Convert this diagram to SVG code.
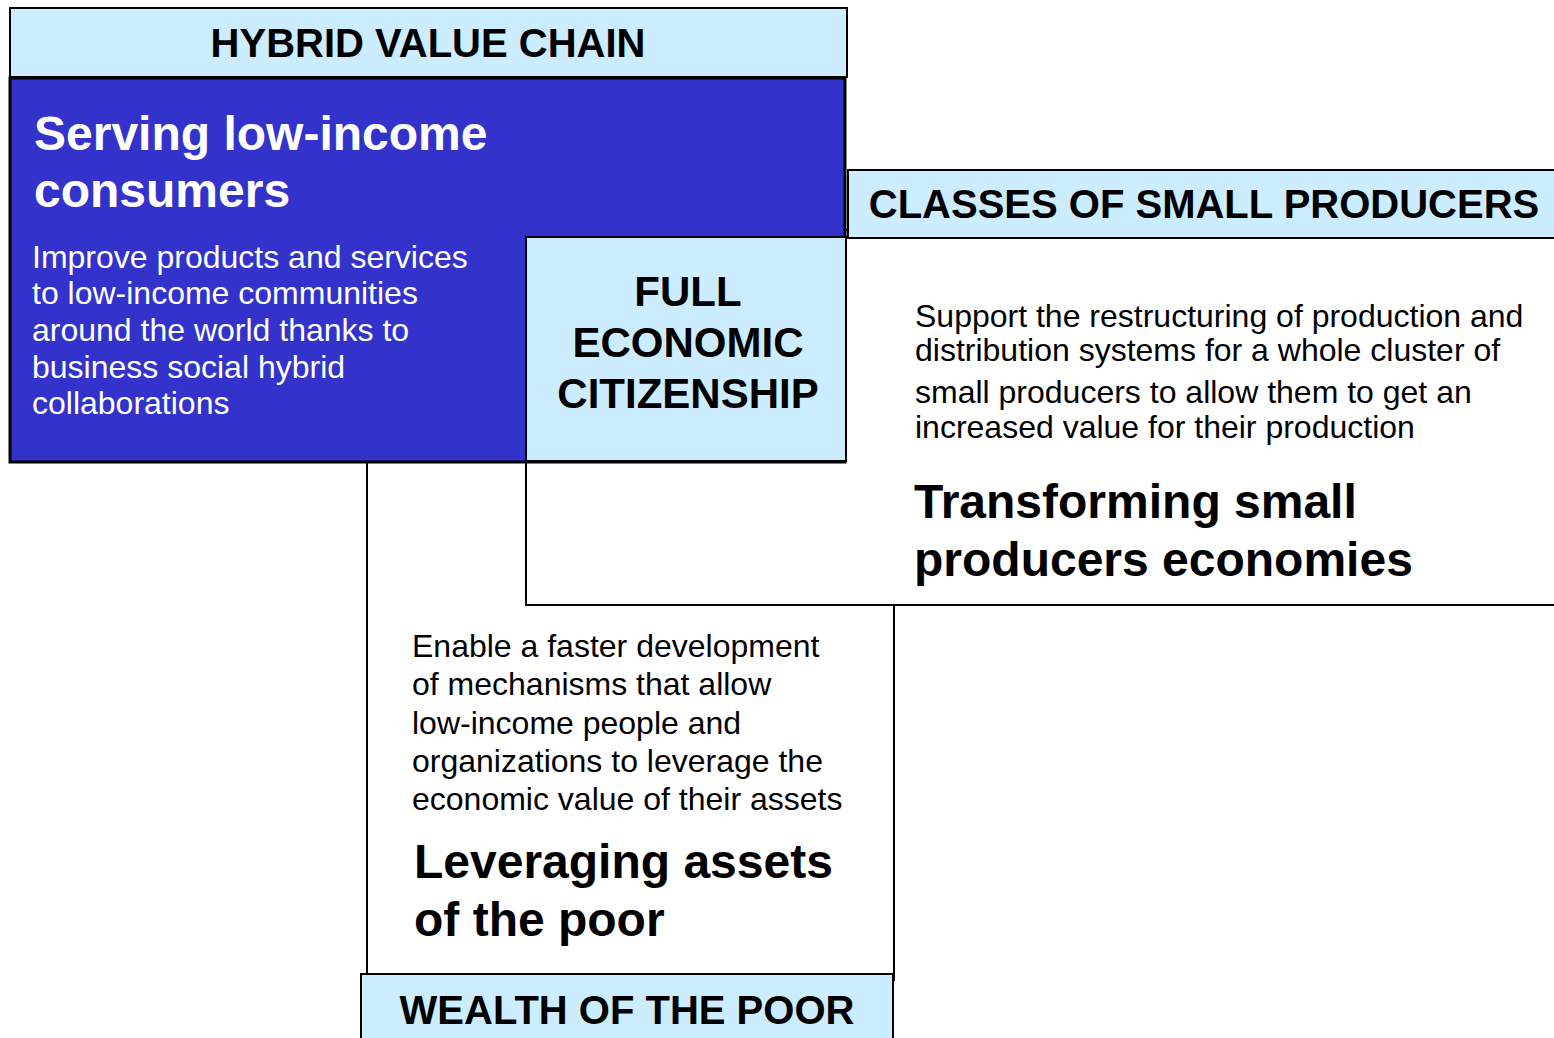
<svg xmlns="http://www.w3.org/2000/svg" width="1554" height="1038" viewBox="0 0 1554 1038">
<style>
.hdr{fill:#CCECFF;stroke:#000;stroke-width:2}
.wbox{fill:#fff;stroke:#000;stroke-width:2}
t{}
.ht{font-family:"Liberation Sans",Arial,sans-serif;font-weight:bold;font-size:40px;fill:#000;text-anchor:middle}
.big{font-family:"Liberation Sans",Arial,sans-serif;font-weight:bold;font-size:48px;fill:#000}
.body{font-family:"Liberation Sans",Arial,sans-serif;font-size:32px;fill:#000}
</style>
<rect width="1554" height="1038" fill="#fff"/>
<g id="connectors"></g>
<g id="leveraging">
<rect class="wbox" x="367" y="450" width="527" height="530"/>
<text class="body" x="412" y="657">Enable a faster development</text>
<text class="body" x="412" y="695">of mechanisms that allow</text>
<text class="body" x="412" y="734">low-income people and</text>
<text class="body" x="412" y="772">organizations to leverage the</text>
<text class="body" x="412" y="810">economic value of their assets</text>
<text class="big" x="414" y="878">Leveraging assets</text>
<text class="big" x="414" y="936">of the poor</text>
</g>
<g id="transforming">
<rect class="wbox" x="526" y="230" width="1040" height="375"/>
<text class="body" x="915" y="327">Support the restructuring of production and</text>
<text class="body" x="915" y="361">distribution systems for a whole cluster of</text>
<text class="body" x="915" y="403">small producers to allow them to get an</text>
<text class="body" x="915" y="438">increased value for their production</text>
<text class="big" x="914" y="518">Transforming small</text>
<text class="big" x="914" y="576">producers economies</text>
</g>
<g id="serving">
<rect x="10" y="78" width="835" height="384" fill="#3333CC" stroke="#000" stroke-width="3"/>
<text class="big" x="34" y="150" fill="#fff" style="fill:#fff">Serving low-income</text>
<text class="big" x="34" y="207" style="fill:#fff">consumers</text>
<text class="body" x="32" y="268" style="fill:#fff">Improve products and services</text>
<text class="body" x="32" y="304" style="fill:#fff">to low-income communities</text>
<text class="body" x="32" y="341" style="fill:#fff">around the world thanks to</text>
<text class="body" x="32" y="378" style="fill:#fff">business social hybrid</text>
<text class="body" x="32" y="414" style="fill:#fff">collaborations</text>
</g>
<g id="full-economic-citizenship">
<rect class="hdr" x="526" y="237" width="320" height="224"/>
<text class="ht" x="688" y="306" style="font-size:42px">FULL</text>
<text class="ht" x="688" y="357" style="font-size:42px">ECONOMIC</text>
<text class="ht" x="688" y="408" style="font-size:42px">CITIZENSHIP</text>
</g>
<g id="hybrid-value-chain">
<rect class="hdr" x="10" y="8" width="837" height="69"/>
<text class="ht" x="428" y="57">HYBRID VALUE CHAIN</text>
</g>
<g id="classes-of-small-producers">
<rect class="hdr" x="848" y="170" width="720" height="68"/>
<text class="ht" x="1204" y="218">CLASSES OF SMALL PRODUCERS</text>
</g>
<g id="wealth-of-the-poor">
<rect class="hdr" x="361" y="974" width="532" height="80"/>
<text class="ht" x="627" y="1024">WEALTH OF THE POOR</text>
</g>
</svg>
